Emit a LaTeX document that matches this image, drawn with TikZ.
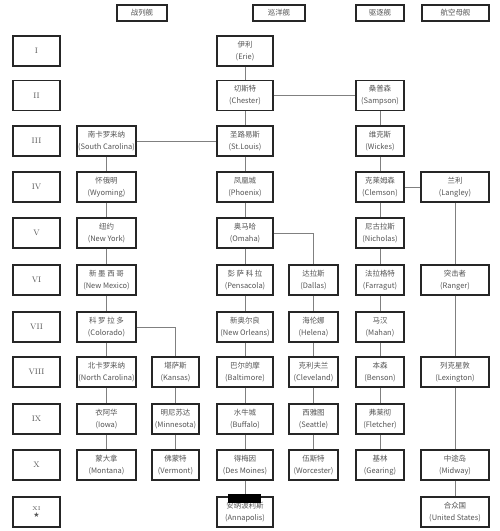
\documentclass[tikz,border=0pt]{standalone}
\usepackage{fontspec}
\setmainfont{Noto Sans CJK SC}
\newfontfamily\symfont{DejaVu Sans}
\newfontfamily\romfont{Latin Modern Roman}
\usetikzlibrary{shadows}
\definecolor{boxline}{HTML}{262626}
\definecolor{txt}{HTML}{555555}
\definecolor{linkc}{HTML}{808080}
\tikzset{
  shipbox/.style={draw=boxline, line width=1.3pt, fill=white, text=txt, align=center,
    inner sep=0pt, minimum height=30bp, font=\fontsize{7.5}{12}\selectfont,
    drop shadow={shadow xshift=0.8bp, shadow yshift=-0.8bp, opacity=0.35, fill=black}},
  headbox/.style={shipbox, minimum height=16bp, font=\fontsize{7.5}{9}\selectfont},
  tierbox/.style={shipbox, minimum width=47bp, font=\romfont\fontsize{8}{9}\selectfont},
  bbbox/.style={shipbox, minimum width=59bp},
  kabox/.style={shipbox, minimum width=47bp},
  cabox/.style={shipbox, minimum width=56bp},
  clbox/.style={shipbox, minimum width=49bp},
  ddbox/.style={shipbox, minimum width=48bp},
  cvbox/.style={shipbox, minimum width=68bp},
  linkline/.style={draw=linkc, line width=0.8pt},
}
\begin{document}
\begin{tikzpicture}[x=1bp,y=-1bp]
\useasboundingbox[fill=white] (0,0) rectangle (500,531);
% headers
\node[headbox, minimum width=50bp] (hbb) at (142,13) {战列舰};
\node[headbox, minimum width=52bp] (hca) at (279,13) {巡洋舰};
\node[headbox, minimum width=48bp] (hdd) at (380,13) {驱逐舰};
\node[headbox, minimum width=67bp] (hcv) at (455.5,13) {航空母舰};
% tiers
\node[tierbox] (t1) at (36.5,51) {I};
\node[tierbox] (t2) at (36.5,95.5) {II};
\node[tierbox] (t3) at (36.5,141) {III};
\node[tierbox] (t4) at (36.5,187) {IV};
\node[tierbox] (t5) at (36.5,233) {V};
\node[tierbox] (t6) at (36.5,280) {VI};
\node[tierbox] (t7) at (36.5,327) {VII};
\node[tierbox] (t8) at (36.5,372) {VIII};
\node[tierbox] (t9) at (36.5,419) {IX};
\node[tierbox] (t10) at (36.5,465) {X};
\node[tierbox, font=\romfont\fontsize{5.5}{7}\selectfont] (t11) at (36.5,512) {XI\\{\symfont\fontsize{7}{7}\selectfont ★}};
% battleships
\node[bbbox] (sc) at (106.5,141) {南卡罗来纳\\(South Carolina)};
\node[bbbox] (wy) at (106.5,187) {怀俄明\\(Wyoming)};
\node[bbbox] (ny) at (106.5,233) {纽约\\(New York)};
\node[bbbox] (nm) at (106.5,280) {新 墨 西 哥\\(New Mexico)};
\node[bbbox] (co) at (106.5,327) {科 罗 拉 多\\(Colorado)};
\node[bbbox] (nc) at (106.5,372) {北卡罗来纳\\(North Carolina)};
\node[bbbox] (io) at (106.5,419) {衣阿华\\(Iowa)};
\node[bbbox] (mo) at (106.5,465) {蒙大拿\\(Montana)};
\node[kabox] (ka) at (175.5,372) {堪萨斯\\(Kansas)};
\node[kabox] (mi) at (175.5,419) {明尼苏达\\(Minnesota)};
\node[kabox] (ve) at (175.5,465) {佛蒙特\\(Vermont)};
% cruisers
\node[cabox] (er) at (245,51) {伊利\\(Erie)};
\node[cabox] (ch) at (245,95.5) {切斯特\\(Chester)};
\node[cabox] (sl) at (245,141) {圣路易斯\\(St.Louis)};
\node[cabox] (ph) at (245,187) {凤凰城\\(Phoenix)};
\node[cabox] (om) at (245,233) {奥马哈\\(Omaha)};
\node[cabox] (pe) at (245,280) {彭 萨 科 拉\\(Pensacola)};
\node[cabox] (no) at (245,327) {新奥尔良\\(New Orleans)};
\node[cabox] (ba) at (245,372) {巴尔的摩\\(Baltimore)};
\node[cabox] (bu) at (245,419) {水牛城\\(Buffalo)};
\node[cabox] (dm) at (245,465) {得梅因\\(Des Moines)};
\node[cabox] (an) at (245,512) {安纳波利斯\\(Annapolis)};
\node[clbox] (da) at (313.5,280) {达拉斯\\(Dallas)};
\node[clbox] (he) at (313.5,327) {海伦娜\\(Helena)};
\node[clbox] (cl) at (313.5,372) {克利夫兰\\(Cleveland)};
\node[clbox] (se) at (313.5,419) {西雅图\\(Seattle)};
\node[clbox] (wo) at (313.5,465) {伍斯特\\(Worcester)};
% destroyers
\node[ddbox] (sa) at (380,95.5) {桑普森\\(Sampson)};
\node[ddbox] (wi) at (380,141) {维克斯\\(Wickes)};
\node[ddbox] (cm) at (380,187) {克莱姆森\\(Clemson)};
\node[ddbox] (ni) at (380,233) {尼古拉斯\\(Nicholas)};
\node[ddbox] (fa) at (380,280) {法拉格特\\(Farragut)};
\node[ddbox] (ma) at (380,327) {马汉\\(Mahan)};
\node[ddbox] (be) at (380,372) {本森\\(Benson)};
\node[ddbox] (fl) at (380,419) {弗莱彻\\(Fletcher)};
\node[ddbox] (ge) at (380,465) {基林\\(Gearing)};
% carriers
\node[cvbox] (la) at (455,187) {兰利\\(Langley)};
\node[cvbox] (ra) at (455,280) {突击者\\(Ranger)};
\node[cvbox] (le) at (455,372) {列克星敦\\(Lexington)};
\node[cvbox] (md) at (455,465) {中途岛\\(Midway)};
\node[cvbox] (us) at (455,512) {合众国\\(United States)};
% links
\path[linkline] (er) -- (ch) (ch) -- (sl) (sl) -- (ph) (ph) -- (om) (om) -- (pe)
  (pe) -- (no) (no) -- (ba) (ba) -- (bu) (bu) -- (dm) (dm) -- (an);
\path[linkline] (ch) -- (sa) (sc) -- (sl) (cm) -- (la);
\path[linkline] (sc) -- (wy) (wy) -- (ny) (ny) -- (nm) (nm) -- (co) (co) -- (nc)
  (nc) -- (io) (io) -- (mo);
\path[linkline] (co.east) -| (ka.north) (ka) -- (mi) (mi) -- (ve);
\path[linkline] (om.east) -| (da.north) (da) -- (he) (he) -- (cl) (cl) -- (se) (se) -- (wo);
\path[linkline] (sa) -- (wi) (wi) -- (cm) (cm) -- (ni) (ni) -- (fa) (fa) -- (ma)
  (ma) -- (be) (be) -- (fl) (fl) -- (ge);
\path[linkline] (la) -- (ra) (ra) -- (le) (le) -- (md) (md) -- (us);
% redaction bar
\fill[black] (228,494) rectangle (261,503);
\end{tikzpicture}
\end{document}
